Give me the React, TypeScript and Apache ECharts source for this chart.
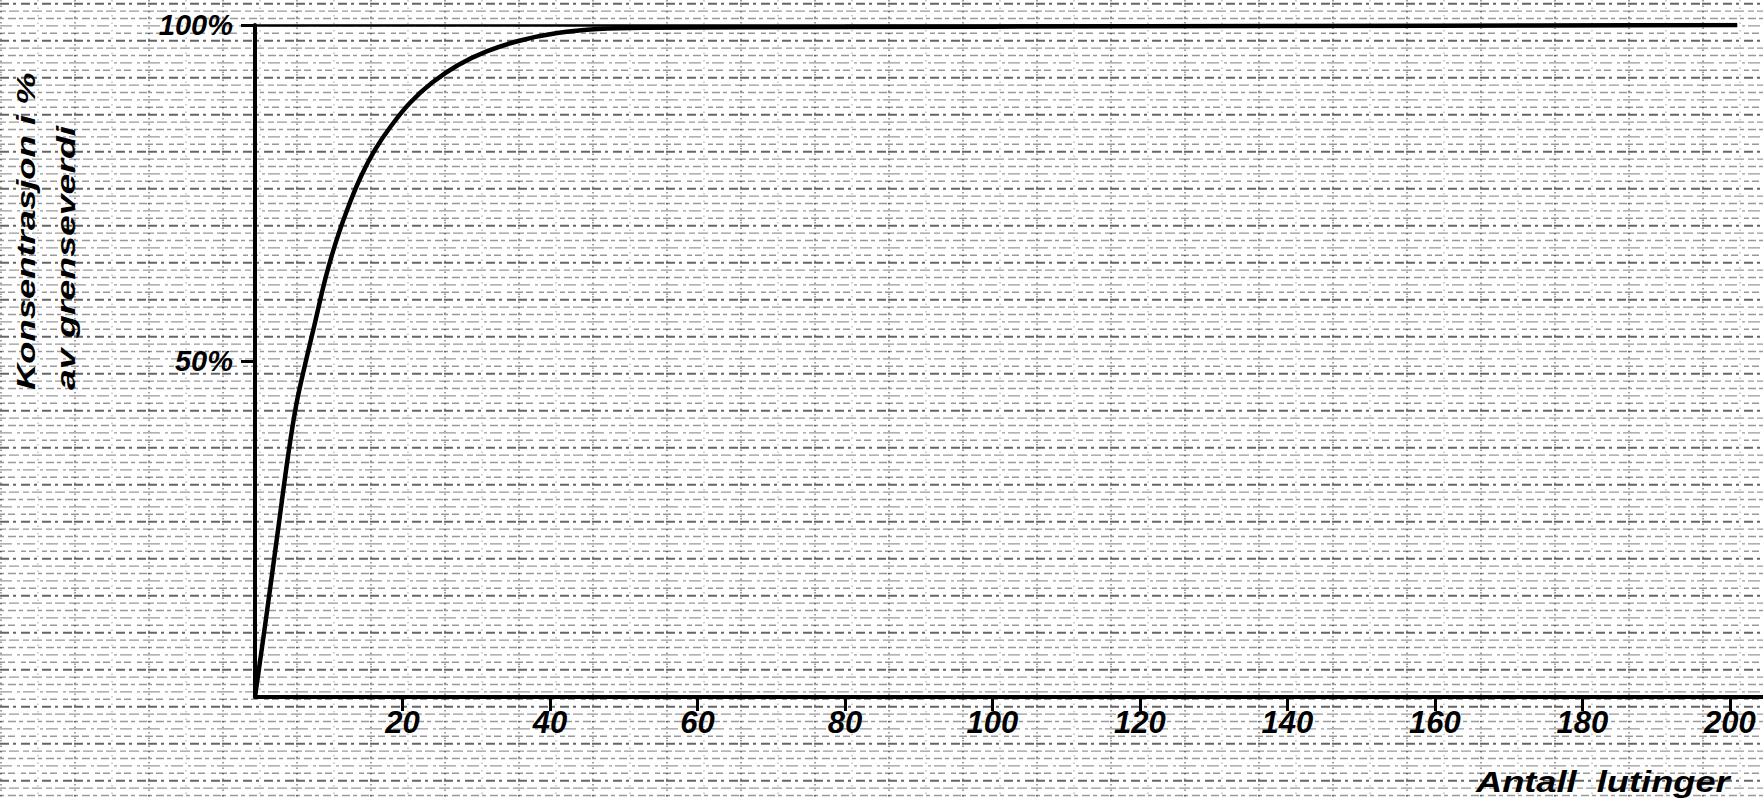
import React, { useEffect, useRef } from "react";
import * as echarts from "echarts";

// Curve: number of leachings vs. concentration (% of limit value)
const leachings = [0, 1.6, 3.2, 4.5, 5.6, 6.8, 8.2, 9.6, 11.0, 12.5, 14.3, 16.2, 18.4, 21.0, 24.0, 27.5, 31.5, 36.0, 41.0, 46.5, 53, 80, 120, 160, 201];
const concentration = [0, 12.5, 25.5, 36, 43.5, 49.5, 56, 62.5, 67.8, 72.5, 77.3, 81.3, 84.9, 88.4, 91.4, 94.0, 96.1, 97.7, 98.8, 99.4, 99.6, 99.7, 99.8, 99.9, 100];

const xTickValues = [20, 40, 60, 80, 100, 120, 140, 160, 180, 200];
const yTickValues = [50, 100];
const yTitleLines = ["Konsentrasjon i %", "av grenseverdi"];
const xTitle = "Antall  lutinger";

const FONT = '"Liberation Sans", Arial, sans-serif';

function paperTexture(): string {
  const t = 74;
  const step = 7.4;
  const dashes = ["9 4 3 5", "6 3 10 4", "4 4 8 3", "12 5 3 3", "5 3 7 6"];
  let lines = "";
  for (let k = 0; k < 10; k++) {
    const y = (k * step + 3.7).toFixed(1);
    const dark = k === 0 || k === 5;
    lines += `<line x1='0' y1='${y}' x2='${t}' y2='${y}' stroke='#000' stroke-width='${dark ? 1.9 : 1.4}' stroke-opacity='${dark ? 0.6 : 0.4}' stroke-dasharray='${dashes[k % dashes.length]}'/>`;
  }
  lines += `<line x1='1' y1='0' x2='1' y2='${t}' stroke='#000' stroke-width='1.5' stroke-opacity='0.5' stroke-dasharray='1.5 4'/>`;
  lines += `<line x1='38' y1='0' x2='38' y2='${t}' stroke='#000' stroke-width='1.2' stroke-opacity='0.3' stroke-dasharray='1.5 6'/>`;
  const svg = `<svg xmlns='http://www.w3.org/2000/svg' width='${t}' height='${t}'>${lines}</svg>`;
  return `url("data:image/svg+xml;utf8,${encodeURIComponent(svg)}")`;
}

export default function App() {
  const ref = useRef<HTMLDivElement>(null);

  useEffect(() => {
    if (!ref.current) return;
    const chart = echarts.init(ref.current, null, { renderer: "svg" });
    const data = leachings.map((x, i) => [x, concentration[i]]);

    const titleStyle = {
      fill: "#000",
      fontFamily: FONT,
      fontStyle: "italic",
      fontWeight: "bold",
      align: "left",
      verticalAlign: "middle",
      textAlign: "left",
      textVerticalAlign: "middle",
    };

    chart.setOption({
      animation: false,
      backgroundColor: "transparent",
      grid: { left: 255, right: 0, top: 25, bottom: 103, containLabel: false },
      xAxis: {
        type: "value",
        min: 0,
        max: 204.5,
        interval: 20,
        axisLine: { show: true, onZero: false, lineStyle: { color: "#000", width: 4 } },
        axisTick: { show: true, customValues: xTickValues, length: 14, lineStyle: { color: "#000", width: 3 } },
        axisLabel: {
          customValues: xTickValues,
          color: "#000",
          fontFamily: FONT,
          fontStyle: "italic",
          fontWeight: "bold",
          fontSize: 31,
          margin: 10,
        },
        splitLine: { show: false },
      },
      yAxis: {
        type: "value",
        min: 0,
        max: 100,
        interval: 50,
        axisLine: { show: true, onZero: false, lineStyle: { color: "#000", width: 4 } },
        axisTick: { show: true, customValues: yTickValues, length: 14, lineStyle: { color: "#000", width: 3 } },
        axisLabel: {
          customValues: yTickValues,
          formatter: (v: number) => `${v}%`,
          color: "#000",
          fontFamily: FONT,
          fontStyle: "italic",
          fontWeight: "bold",
          fontSize: 29,
          margin: 22,
        },
        splitLine: { show: false },
      },
      series: [
        {
          type: "line",
          data,
          symbol: "none",
          smooth: 0.4,
          lineStyle: { color: "#000", width: 4.5 },
          markLine: {
            silent: true,
            symbol: "none",
            label: { show: false },
            lineStyle: { color: "#000", width: 2.5, type: "solid" },
            data: [[{ coord: [0, 100] }, { coord: [201, 100] }]],
          },
        },
      ],
      graphic: [
        {
          type: "text",
          x: 26,
          y: 390,
          rotation: Math.PI / 2,
          scaleX: 1.4,
          style: { ...titleStyle, text: yTitleLines[0], fontSize: 26 },
        },
        {
          type: "text",
          x: 66,
          y: 390,
          rotation: Math.PI / 2,
          scaleX: 1.44,
          style: { ...titleStyle, text: yTitleLines[1], fontSize: 26 },
        },
        {
          type: "text",
          x: 1476,
          y: 782,
          scaleX: 1.25,
          style: { ...titleStyle, text: xTitle, fontSize: 29 },
        },
      ],
    });

    return () => chart.dispose();
  }, []);

  return (
    <div
      ref={ref}
      style={{
        position: "fixed",
        left: 0,
        top: 0,
        width: 1763,
        height: 800,
        backgroundColor: "#fff",
        backgroundImage: paperTexture(),
        backgroundRepeat: "repeat",
      }}
    />
  );
}
